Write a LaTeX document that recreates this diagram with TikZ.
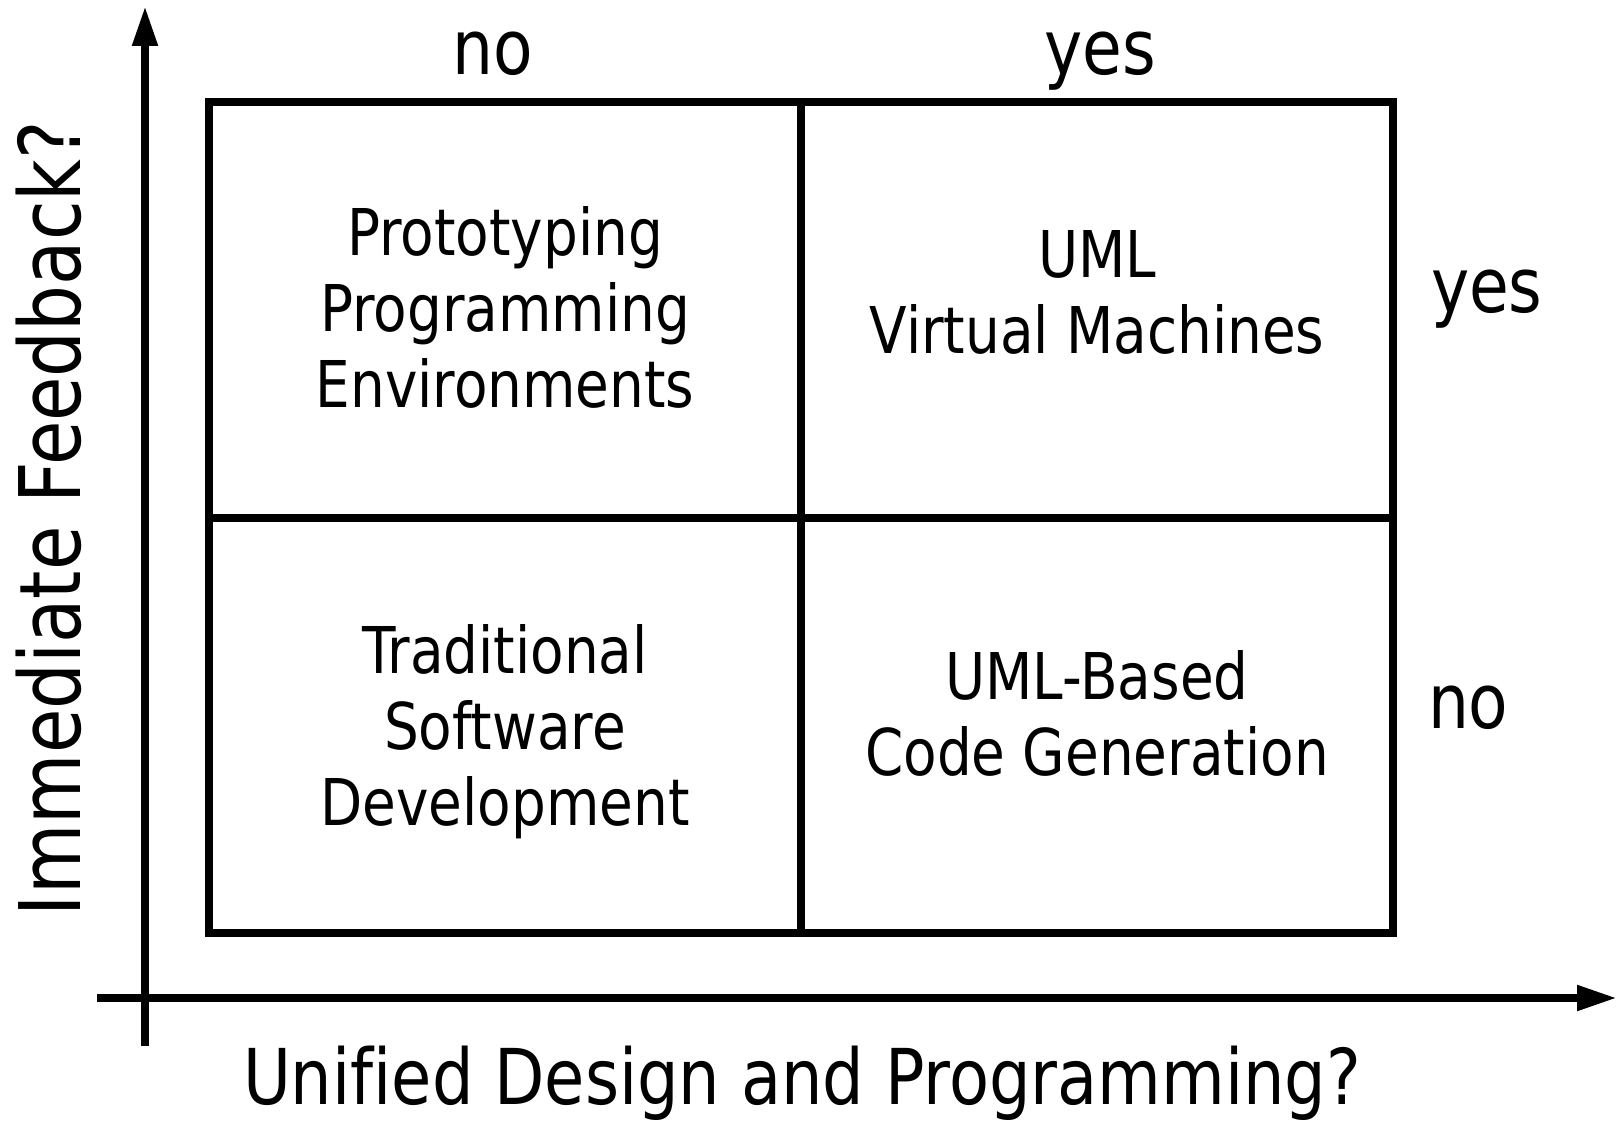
\documentclass[tikz,border=0pt]{standalone}
\usepackage{fontspec}
\setmainfont[FakeStretch=0.85,Ligatures=NoCommon]{DejaVu Sans}
\usetikzlibrary{arrows.meta}

\begin{document}
\begin{tikzpicture}[x=1pt,y=-1pt,line width=8pt,
  axis/.style={-{Triangle[length=40pt,width=24pt]}},
  quadtext/.style={align=center,anchor=base,inner sep=0pt,font=\fontsize{64.5}{76}\selectfont},
  answer/.style={inner sep=0pt,font=\fontsize{76}{90}\selectfont}]
\useasboundingbox (0,0) rectangle (1617,1121);

% axes
\coordinate (yfoot) at (145,1046);
\coordinate (ytip) at (145,6);
\coordinate (xfoot) at (97,998);
\coordinate (xtip) at (1617,998);
\draw[axis] (yfoot) -- (ytip);
\draw[axis] (xfoot) -- (xtip);
\node[rotate=90,anchor=base west,inner sep=0pt,font=\fontsize{85}{100}\selectfont] (ylabel) at (80,920) {Immediate Feedback?};
\node[anchor=base,inner sep=0pt,font=\fontsize{77}{90}\selectfont] (xlabel) at (802,1104) {Unified Design and Programming?};

% quadrants
\coordinate (nw) at (209,102);
\coordinate (se) at (1393,933);
\draw (nw) rectangle (se);
\draw (801,102) -- (801,933);
\draw (209,518) -- (1393,518);

% last line of each text sits on the given point
\node[quadtext] (proto) at (505,407) {Prototyping\\Programming\\Environments};
\node[quadtext] (umlvm) at (1097,353) {UML\\Virtual Machines};
\node[quadtext] (trad) at (505,825) {Traditional\\Software\\Development};
\node[quadtext] (codegen) at (1097,775) {UML-Based\\Code Generation};

% answers
\node[answer,anchor=base] (topno) at (493,75) {no};
\node[answer,anchor=base] (topyes) at (1100,75) {yes};
\node[answer,anchor=base west] (rightyes) at (1427,312) {yes};
\node[answer,anchor=base west] (rightno) at (1424,728) {no};
\end{tikzpicture}
\end{document}
